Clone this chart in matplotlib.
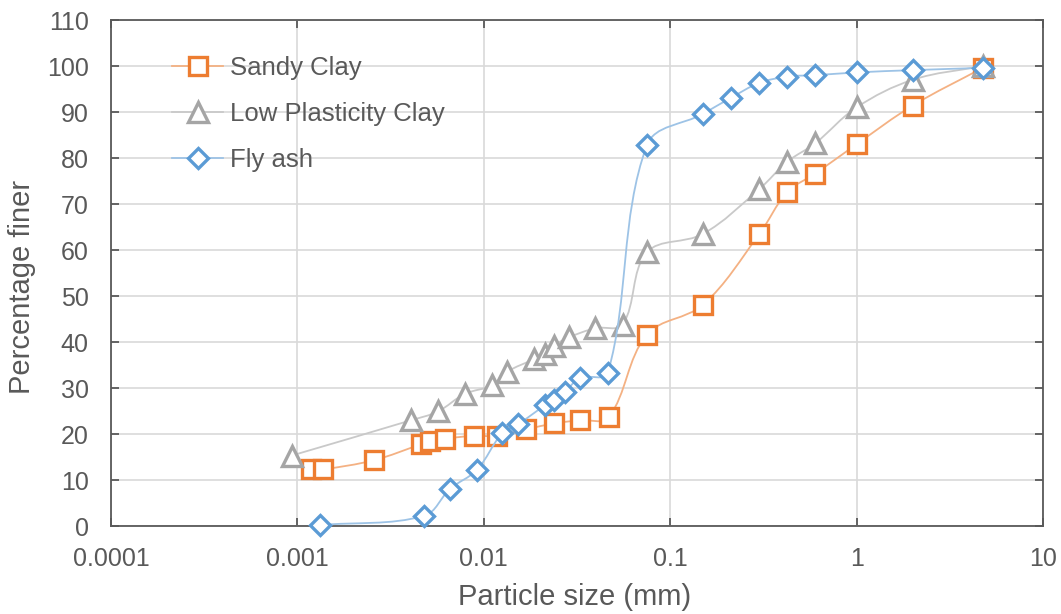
import numpy as np
import matplotlib
matplotlib.use("Agg")
import matplotlib.pyplot as plt
from matplotlib.path import Path
from matplotlib.patches import PathPatch
from matplotlib.lines import Line2D

# ---------------- data ----------------
sandy_x = [0.00119, 0.00137, 0.00257, 0.00462, 0.00513, 0.00622, 0.00881, 0.0117,
           0.0169, 0.0237, 0.0329, 0.0467, 0.075, 0.15, 0.3, 0.425, 0.6, 1.0, 2.0, 4.75]
sandy_y = [12.3, 12.3, 14.3, 17.8, 18.5, 19.0, 19.6, 19.6,
           21.0, 22.3, 23.0, 23.6, 41.6, 48.1, 63.4, 72.6, 76.6, 83.0, 91.4, 99.6]

lpc_x = [0.00093, 0.00408, 0.00568, 0.00789, 0.0111, 0.0133, 0.0187, 0.0212,
         0.0237, 0.0286, 0.0397, 0.0556, 0.075, 0.15, 0.3, 0.425, 0.6, 1.0, 2.0, 4.75]
lpc_y = [15.3, 23.0, 24.9, 28.7, 30.6, 33.5, 36.3, 37.3,
         39.2, 41.0, 43.0, 43.8, 59.5, 63.5, 73.2, 79.2, 83.2, 91.0, 97.0, 100.0]

fly_x = [0.00132, 0.00478, 0.0066, 0.00918, 0.01256, 0.01524, 0.0214, 0.0239,
         0.0271, 0.0329, 0.0463, 0.075, 0.15, 0.212, 0.3, 0.425, 0.6, 1.0, 2.0, 4.75]
fly_y = [0.2, 2.2, 8.1, 12.2, 20.2, 22.1, 26.3, 27.5,
         29.1, 32.2, 33.3, 82.8, 89.6, 93.1, 96.3, 97.7, 98.0, 98.6, 99.1, 99.6]

labels = ["Sandy Clay", "Low Plasticity Clay", "Fly ash"]
x_ticks = [0.0001, 0.001, 0.01, 0.1, 1, 10]
x_tick_labels = ["0.0001", "0.001", "0.01", "0.1", "1", "10"]
y_ticks = list(range(0, 111, 10))

# ---------------- style ----------------
TXT = "#595959"
plt.rcParams['font.family'] = ['Liberation Sans', 'DejaVu Sans']

fig = plt.figure(figsize=(10.61, 6.14), dpi=100)
W, H = 1061, 614
L, R, T, B = 111, 1043, 20, 526
ax = fig.add_axes([L / W, 1 - B / H, (R - L) / W, (B - T) / H])
ax.set_xscale('log')
ax.set_xlim(1e-4, 10)
ax.set_ylim(0, 110)

# scale factors to approximate screen distances (pixels per decade / per unit)
SX = (R - L) / 5.0
SY = (B - T) / 110.0


def smooth_path(xs, ys, tension=0.36):
    """Excel-like smoothed line: Bezier segments whose control points are
    scaled by the neighbouring chord lengths (computed in screen space)."""
    lx = np.log10(np.asarray(xs, float))
    yy = np.asarray(ys, float)
    P = np.column_stack([lx * SX, yy * SY])
    n = len(P)
    verts = [P[0]]
    codes = [Path.MOVETO]
    for i in range(n - 1):
        p0 = P[i - 1] if i > 0 else P[i]
        p1 = P[i]
        p2 = P[i + 1]
        p3 = P[i + 2] if i + 2 < n else P[i + 1]
        d01 = np.hypot(*(p1 - p0))
        d12 = np.hypot(*(p2 - p1))
        d23 = np.hypot(*(p3 - p2))
        f1 = d12 / (d01 + d12) if (d01 + d12) > 0 else 0
        f2 = d12 / (d12 + d23) if (d12 + d23) > 0 else 0
        c1 = p1 + (p2 - p0) * tension * f1
        c2 = p2 - (p3 - p1) * tension * f2
        verts += [c1, c2, p2]
        codes += [Path.CURVE4] * 3
    verts = np.array(verts)
    out = np.column_stack([10 ** (verts[:, 0] / SX), verts[:, 1] / SY])
    return Path(out, codes)


series = [
    (sandy_x, sandy_y, 's', '#ED7D31', '#F4B183', 13),
    (lpc_x, lpc_y, '^', '#A5A5A5', '#C9C9C9', 14.5),
    (fly_x, fly_y, 'D', '#5B9BD5', '#9DC3E6', 10.5),
]

handles = []
for k, (xs, ys, mk, mc, lc, ms) in enumerate(series):
    patch = PathPatch(smooth_path(xs, ys), facecolor='none', edgecolor=lc,
                      lw=1.3, zorder=3 + 2 * k)
    ax.add_patch(patch)
    ax.plot(xs, ys, linestyle='none', marker=mk, markersize=ms,
            markerfacecolor='white', markeredgecolor=mc, markeredgewidth=2.4,
            zorder=4 + 2 * k, clip_on=False)
    handles.append(Line2D([], [], color=lc, lw=1.3, marker=mk, markersize=ms,
                          markerfacecolor='white', markeredgecolor=mc,
                          markeredgewidth=2.4))

ax.set_xticks(x_ticks)
ax.set_xticklabels(x_tick_labels)
ax.xaxis.set_minor_locator(matplotlib.ticker.NullLocator())
ax.set_yticks(y_ticks)

ax.grid(True, which='major', color='#D9D9D9', lw=1.2)
ax.set_axisbelow(True)
for s in ax.spines.values():
    s.set_color('#595959')
    s.set_linewidth(1.3)
ax.tick_params(axis='both', which='major', direction='in', length=6, width=1.3,
               color='#595959', labelcolor=TXT, labelsize=18,
               top=True, right=True)
ax.tick_params(axis='y', pad=16)
ax.tick_params(axis='x', pad=15)

ax.set_xlabel("Particle size (mm)", fontsize=21, color=TXT, va='center')
ax.xaxis.set_label_coords((575 - L) / (R - L), (B - 597) / (B - T))
ax.set_ylabel("Percentage finer", fontsize=21, color=TXT, va='center')
ax.yaxis.set_label_coords((22 - L) / (R - L), (B - 287) / (B - T))

leg = ax.legend(handles, labels, loc='upper left',
                bbox_to_anchor=(172 / W, 1 - 56 / H), bbox_transform=fig.transFigure,
                frameon=False, fontsize=18.5, handlelength=2.0, handletextpad=0.25,
                labelspacing=0.86, borderpad=0, borderaxespad=0)
for txt in leg.get_texts():
    txt.set_color(TXT)

fig.savefig("out.png", dpi=100)
